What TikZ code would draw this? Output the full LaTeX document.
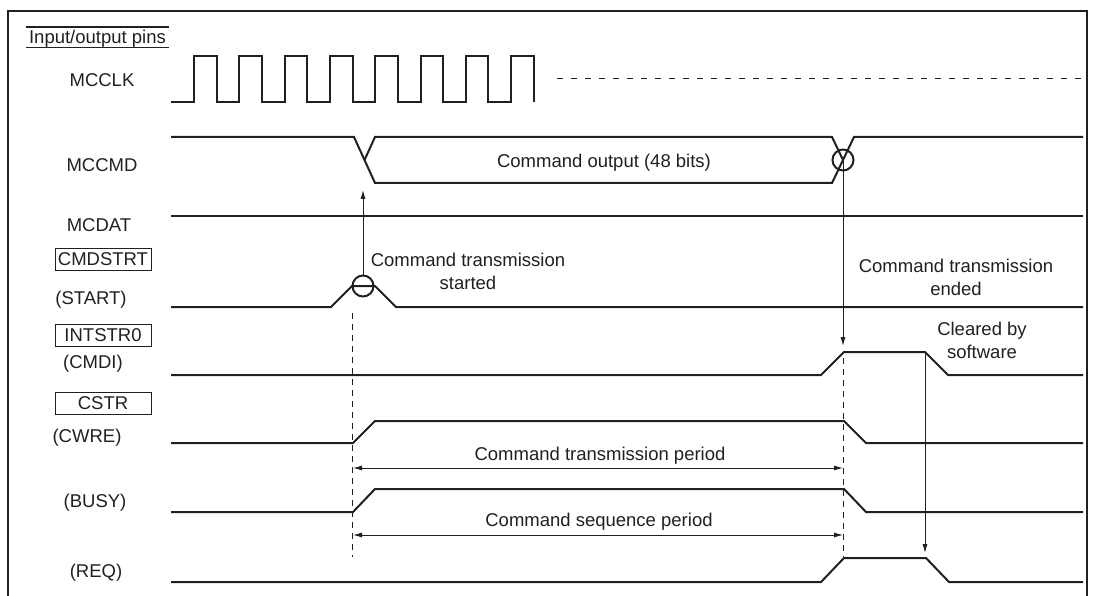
\documentclass[tikz,border=0pt]{standalone}
\usepackage{fontspec}
\setmainfont{Liberation Sans}
\usepackage{tikz}
\usetikzlibrary{arrows.meta, positioning}
\definecolor{ink}{RGB}{35,31,32}

\begin{document}
\begin{tikzpicture}[
  x=1pt,y=-1pt,color=ink,
  font=\fontsize{18.5}{23}\selectfont,
  sig/.style={line width=2pt,line join=miter},
  lbl/.style={anchor=base,inner sep=0pt},
  note/.style={anchor=base,inner sep=0pt,align=center},
  pin/.style={draw,line width=0.9pt,minimum width=96pt,minimum height=22pt,inner sep=0pt},
  ring/.style={circle,draw,line width=2pt,minimum size=21pt,inner sep=0pt},
  arr/.style={-{Latex[length=9pt,width=5pt]},line width=0.9pt},
  span/.style={{Latex[length=9pt,width=5pt]}-{Latex[length=9pt,width=5pt]},line width=0.9pt},
  guide/.style={line width=1pt,dash pattern=on 6pt off 5pt}
]
  \useasboundingbox (0,0) rectangle (1095,596);
  \draw[line width=2.2pt] (8,600) -- (8,11) -- (1087,11) -- (1087,600);

  \node[lbl] (io) at (97.5,44) {Input/output pins};
  \draw[line width=1.1pt] (26,27) -- (169,27) (26,47.5) -- (169,47.5);

  \node[lbl] (lclk)   at (102,87)    {MCCLK};
  \node[lbl] (lcmd)   at (102,172)   {MCCMD};
  \node[lbl] (ldat)   at (99,232)    {MCDAT};
  \node[pin] (bstrt)  at (103,259)   {CMDSTRT};
  \node[lbl] (lstart) at (91,304)    {(START)};
  \node[pin] (bint)   at (103,335.5) {INTSTR0};
  \node[lbl] (lcmdi)  at (93,368)    {(CMDI)};
  \node[pin] (bcstr)  at (103,403.5) {CSTR};
  \node[lbl] (lcwre)  at (87,442)    {(CWRE)};
  \node[lbl] (lbusy)  at (95,507)    {(BUSY)};
  \node[lbl] (lreq)   at (96,577)    {(REQ)};

  \draw[sig] (171,102) foreach \k in {0,...,7} {
      -- ({194+45.3*\k},102) -- ({194+45.3*\k},56)
      -- ({216.6+45.3*\k},56) -- ({216.6+45.3*\k},102)};
  \draw[line width=1pt,dash pattern=on 6pt off 8pt] (557,79) -- (1083,79);

  \draw[sig] (171,137) -- (354,137) -- (375,183) -- (832,183) -- (854,137) -- (1083,137);
  \draw[sig] (364.5,160) -- (375,137) -- (832,137) -- (843,160);
  \node[lbl] (tout) at (604,168) {Command output (48 bits)};

  \draw[sig] (171,216) -- (1083,216);
  \draw[sig] (171,307) -- (331,307) -- (352,286) -- (375,286) -- (396,307) -- (1083,307);
  \draw[sig] (171,375) -- (821,375) -- (844,352) -- (925,352) -- (948,375) -- (1083,375);
  \draw[sig] (171,443) -- (353,443) -- (375,421) -- (844,421) -- (866,443) -- (1083,443);
  \draw[sig] (171,512) -- (353,512) -- (375,489) -- (844,489) -- (866,512) -- (1083,512);
  \draw[sig] (171,582) -- (821,582) -- (844,558) -- (926,558) -- (949,582) -- (1083,582);

  \node[ring] (c1) at (363,286) {};
  \node[ring] (c2) at (843,160) {};
  \coordinate (clr) at (925,352);
  \coordinate (t1) at (363,190);
  \coordinate (t2) at (843,346);
  \coordinate (t3) at (925,553);
  \foreach \a/\b in {c1.north/t1,c2.center/t2,clr/t3}
    \draw[arr] (\a) -- (\b);

  \coordinate (g1) at (352,313);
  \coordinate (g1e) at (352,557);
  \coordinate (g2) at (843,358);
  \coordinate (g2e) at (843,557);
  \draw[guide] (g1) -- (g1e);
  \draw[guide] (g2) -- (g2e);

  \draw[span] (353,468) -- (843,468);
  \draw[span] (353,535) -- (843,535);
  \node[lbl] (tper1) at (600,460) {Command transmission period};
  \node[lbl] (tper2) at (599,526) {Command sequence period};

  \node[note] (tstart) at (468,289.5) {Command transmission\\started};
  \node[note] (tend) at (956,295) {Command transmission\\ended};
  \node[note] (tclr) at (982,358) {Cleared by\\software};
\end{tikzpicture}
\end{document}
